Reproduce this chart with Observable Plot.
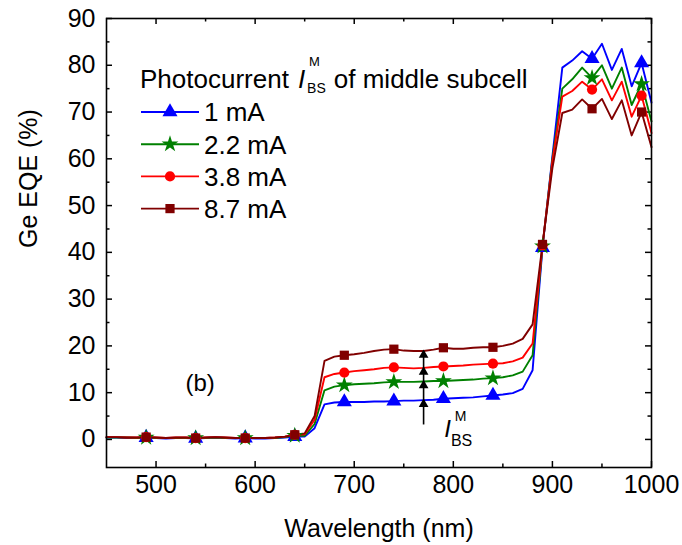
<!DOCTYPE html>
<html>
<head>
<meta charset="utf-8">
<script src="https://cdn.jsdelivr.net/npm/d3@7"></script>
<script src="https://cdn.jsdelivr.net/npm/@observablehq/plot@0.6"></script>
<style>
  body { margin: 0; background: #fff; }
  #chart svg { font-family: "Liberation Sans", Arial, sans-serif; }
</style>
</head>
<body>
<div id="chart"></div>
<script>
// Wavelength grid (nm)
const wavelength = [450, 460, 470, 480, 490, 500, 510, 520, 530, 540, 550, 560, 570, 580, 590, 600,
  610, 620, 630, 640, 650, 660, 670, 680, 690, 700, 710, 720, 730, 740, 750, 760, 770, 780, 790, 800,
  810, 820, 830, 840, 850, 860, 870, 880, 890, 900, 910, 920, 930, 940, 950, 960, 970, 980, 990, 1000];

// Ge subcell EQE (%) for each middle-subcell photocurrent
const eqe1mA = [0.4, 0.4, 0.3, 0.3, 0.4, 0.3, 0.2, 0.3, 0.3, 0.2, 0.3, 0.4, 0.3, 0.2, 0.3, 0.2,
  0.2, 0.3, 0.4, 0.6, 0.6, 2.4, 7.5, 7.9, 8.0, 8.0, 8.0, 8.1, 8.1, 8.2, 8.3, 8.3, 8.4, 8.5, 8.7, 8.8,
  8.9, 9.0, 9.2, 9.4, 9.6, 9.9, 10.8, 14.8, 41.0, 60.5, 79.5, 81.0, 83.0, 81.4, 84.6, 79.0, 83.5, 75.5, 80.5, 72.0];
const eqe2p2mA = [0.4, 0.4, 0.4, 0.3, 0.4, 0.3, 0.3, 0.3, 0.3, 0.3, 0.3, 0.4, 0.3, 0.3, 0.3, 0.3,
  0.3, 0.3, 0.5, 0.8, 0.8, 3.3, 10.5, 11.3, 11.6, 11.8, 11.9, 12.0, 12.2, 12.3, 12.3, 12.3, 12.4, 12.5, 12.5, 12.6,
  12.7, 12.8, 13.0, 13.1, 13.3, 13.7, 14.5, 18.0, 41.3, 60.0, 75.0, 77.0, 79.5, 77.3, 80.0, 75.0, 79.5, 71.5, 76.0, 68.0];
const eqe3p8mA = [0.5, 0.5, 0.4, 0.4, 0.5, 0.4, 0.3, 0.4, 0.4, 0.3, 0.4, 0.5, 0.4, 0.3, 0.3, 0.3,
  0.3, 0.4, 0.6, 1.0, 1.1, 4.2, 13.3, 14.0, 14.3, 14.6, 14.8, 15.0, 15.3, 15.4, 15.3, 15.2, 15.3, 15.5, 15.6, 15.7,
  15.8, 16.0, 16.1, 16.2, 16.3, 16.7, 17.5, 20.5, 41.5, 59.5, 73.3, 74.5, 76.5, 74.8, 77.0, 72.5, 76.5, 69.0, 73.5, 65.5];
const eqe8p7mA = [0.5, 0.5, 0.4, 0.4, 0.5, 0.4, 0.3, 0.4, 0.4, 0.3, 0.4, 0.5, 0.4, 0.3, 0.3, 0.3,
  0.3, 0.4, 0.6, 1.0, 1.3, 5.0, 16.8, 17.7, 18.0, 18.2, 18.5, 18.9, 19.2, 19.3, 19.0, 18.9, 18.9, 19.2, 19.6, 19.4,
  19.4, 19.6, 19.7, 19.7, 20.0, 20.5, 21.5, 24.6, 41.7, 58.0, 69.8, 70.5, 72.7, 70.7, 72.8, 68.5, 72.5, 65.0, 70.0, 62.5];

const seriesNames = ["1 mA", "2.2 mA", "3.8 mA", "8.7 mA"];
const seriesValues = [eqe1mA, eqe2p2mA, eqe3p8mA, eqe8p7mA];
const seriesColors = ["#0000ff", "#008000", "#ff0000", "#800000"];
const seriesSymbols = ["triangle", "star", "circle", "square"];
const seriesMarkerR = [5.6, 5.3, 5.1, 5.2];

// Wavelengths carrying a marker
const markerWavelengths = [490, 540, 590, 640, 690, 740, 790, 840, 890, 940, 990];

// Axis ticks
const xMajorTicks = [500, 600, 700, 800, 900, 1000];
const xMinorTicks = [550, 650, 750, 850, 950];
const yMajorTicks = [0, 10, 20, 30, 40, 50, 60, 70, 80, 90];
const yMinorTicks = [5, 15, 25, 35, 45, 55, 65, 75, 85];

// Upward arrow showing increasing photocurrent
const arrowWavelength = 770;
const arrowBase = 3.2;

// Long-format table built from the arrays
const rows = [];
seriesNames.forEach((name, i) => {
  wavelength.forEach((w, j) => rows.push({series: name, wavelength: w, eqe: seriesValues[i][j]}));
});

const arrowLevels = seriesValues.map(v => v[wavelength.indexOf(arrowWavelength)]);

const W = 682, H = 545;
const mL = 106, mR = 31, mT = 18, mB = 78;
const innerW = W - mL - mR, innerH = H - mT - mB;
const font = "25px";

const plot = Plot.plot({
  width: W, height: H,
  marginLeft: mL, marginRight: mR, marginTop: mT, marginBottom: mB,
  style: {background: "#fff", color: "#000", fontSize: font, fontFamily: '"Liberation Sans", Arial, sans-serif'},
  x: {domain: [450, 1000]},
  y: {domain: [-6, 90]},
  color: {domain: seriesNames, range: seriesColors},
  marks: [
    // inward ticks on all four sides
    Plot.ruleX(xMajorTicks, {stroke: "#000", strokeWidth: 1.5, insetTop: innerH - 6}),
    Plot.ruleX(xMinorTicks, {stroke: "#000", strokeWidth: 1.5, insetTop: innerH - 3.5}),
    Plot.ruleX(xMajorTicks, {stroke: "#000", strokeWidth: 1.5, insetBottom: innerH - 6}),
    Plot.ruleX(xMinorTicks, {stroke: "#000", strokeWidth: 1.5, insetBottom: innerH - 3.5}),
    Plot.ruleY(yMajorTicks, {stroke: "#000", strokeWidth: 1.5, insetRight: innerW - 6}),
    Plot.ruleY(yMinorTicks, {stroke: "#000", strokeWidth: 1.5, insetRight: innerW - 3.5}),
    Plot.ruleY(yMajorTicks, {stroke: "#000", strokeWidth: 1.5, insetLeft: innerW - 6}),
    Plot.ruleY(yMinorTicks, {stroke: "#000", strokeWidth: 1.5, insetLeft: innerW - 3.5}),
    Plot.axisX(xMajorTicks, {anchor: "bottom", tickSize: 0, tickPadding: 8, label: null, fontSize: font, tickFormat: d => String(d)}),
    Plot.axisY(yMajorTicks, {anchor: "left", tickSize: 0, tickPadding: 11, label: null, fontSize: font, tickFormat: d => String(d)}),
    Plot.text(["Wavelength (nm)"], {frameAnchor: "bottom", dy: 61, lineAnchor: "middle", fontSize: font}),
    Plot.text(["Ge EQE (%)"], {frameAnchor: "left", dx: -78, dy: 5, rotate: -90, lineAnchor: "middle", fontSize: font}),
    // curves
    Plot.line(rows, {x: "wavelength", y: "eqe", z: "series", stroke: "series", strokeWidth: 1.9}),
    ...seriesNames.map((name, i) =>
      Plot.dot(rows.filter(d => d.series === name && markerWavelengths.includes(d.wavelength)), {
        x: "wavelength", y: "eqe", fill: seriesColors[i], symbol: seriesSymbols[i], r: seriesMarkerR[i]
      })),
    // arrow
    Plot.link([{x: arrowWavelength, y1: arrowBase, y2: arrowLevels[3]}], {
      x1: "x", x2: "x", y1: "y1", y2: "y2", stroke: "#000", strokeWidth: 1.6
    }),
    Plot.dot(arrowLevels, {x: () => arrowWavelength, y: d => d, symbol: "triangle", fill: "#000", r: 3.6, dy: 4}),
    Plot.text(["I"], {x: () => arrowWavelength, y: () => arrowBase, dx: 24, dy: 5, fontStyle: "italic", fontSize: 24, lineAnchor: "middle"}),
    Plot.text(["M"], {x: () => arrowWavelength, y: () => arrowBase, dx: 37, dy: -8, fontSize: 14, lineAnchor: "middle"}),
    Plot.text(["BS"], {x: () => arrowWavelength, y: () => arrowBase, dx: 38, dy: 16, fontSize: 16, lineAnchor: "middle"}),
    Plot.text(["(b)"], {frameAnchor: "top-left", dx: 79, dy: 365, fontSize: 24, lineAnchor: "middle"}),
    Plot.frame({stroke: "#000", strokeWidth: 1.6})
  ]
});

document.getElementById("chart").append(plot);

// Legend with its heading
const svg = d3.select(plot);
const lg = svg.append("g")
  .attr("font-family", '"Liberation Sans", Arial, sans-serif')
  .attr("text-anchor", "start")
  .attr("fill", "#000");

const hx = 140, hy = 88;
const t1 = lg.append("text").attr("x", hx).attr("y", hy).attr("font-size", 26).text("Photocurrent");
let cx = hx + t1.node().getComputedTextLength() + 9;
const tI = lg.append("text").attr("x", cx).attr("y", hy).attr("font-size", 26).attr("font-style", "italic").text("I");
cx += tI.node().getComputedTextLength() + 2;
const tM = lg.append("text").attr("x", cx + 2).attr("y", 66).attr("font-size", 13).text("M");
const tBS = lg.append("text").attr("x", cx).attr("y", 93).attr("font-size", 14).text("BS");
cx += Math.max(tM.node().getComputedTextLength() + 2, tBS.node().getComputedTextLength()) + 8;
lg.append("text").attr("x", cx).attr("y", hy).attr("font-size", 26).text("of middle subcell");

const symbolTypes = {triangle: d3.symbolTriangle, star: d3.symbolStar, circle: d3.symbolCircle, square: d3.symbolSquare};
seriesNames.forEach((name, i) => {
  const y = 112 + i * 32.2;
  const g = lg.append("g").attr("transform", `translate(0,${y})`);
  g.append("line").attr("x1", 141).attr("x2", 199).attr("y1", 0).attr("y2", 0)
    .attr("stroke", seriesColors[i]).attr("stroke-width", 1.9);
  g.append("path")
    .attr("d", d3.symbol(symbolTypes[seriesSymbols[i]], Math.PI * seriesMarkerR[i] ** 2)())
    .attr("transform", "translate(170,0)")
    .attr("fill", seriesColors[i]);
  g.append("text").attr("x", 204).attr("y", 0).attr("dy", "0.36em").attr("font-size", 26).text(name);
});
</script>
</body>
</html>
